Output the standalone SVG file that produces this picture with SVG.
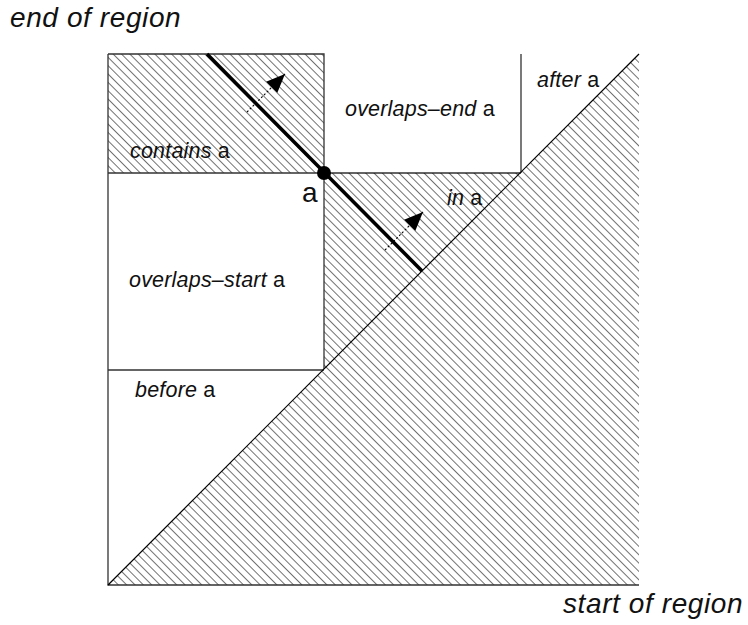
<svg xmlns="http://www.w3.org/2000/svg" width="748" height="625" viewBox="0 0 748 625">
  <style>
    .edge { fill: none; stroke: #333; stroke-width: 1.3; }
    .diag { fill: none; stroke: #000; stroke-width: 1.2; }
    .hatched { fill: url(#hatch); stroke: none; }
    .label { font-family: "Liberation Sans", Arial, sans-serif; font-size: 21.5px; letter-spacing: 0.2px; fill: #111; }
    .axis { font-family: "Liberation Sans", Arial, sans-serif; font-size: 28px; letter-spacing: 0.6px; font-style: italic; fill: #111; }
    .it { font-style: italic; }
    .interval { fill: none; stroke: #000; stroke-width: 3.6; }
    .move { fill: none; stroke: #000; stroke-width: 1.1; stroke-dasharray: 2 2; marker-end: url(#head); }
  </style>
  <defs>
    <pattern id="hatch" patternUnits="userSpaceOnUse" width="5.9" height="10" patternTransform="rotate(-45)">
      <line x1="0" y1="0" x2="0" y2="10" stroke="#000" stroke-width="1.1"/>
    </pattern>
    <marker id="head" markerUnits="userSpaceOnUse" markerWidth="22" markerHeight="18" refX="19" refY="8" orient="auto">
      <path d="M0,0 L19,8 L0,16 Z" fill="#000"/>
    </marker>
  </defs>

  <rect width="748" height="625" fill="#fff"/>

  <!-- regions of the (start, end) plane -->
  <g id="contains">
    <rect class="hatched" x="108" y="54" width="216" height="119"/>
    <path class="edge" d="M108,54 H324 V173"/>
    <text class="label" x="130" y="158"><tspan class="it">contains</tspan> a</text>
  </g>

  <g id="overlaps-end">
    <path class="edge" d="M324,173 H521 M521,173 V54"/>
    <text class="label" x="345" y="116"><tspan class="it">overlaps–end</tspan> a</text>
  </g>

  <g id="after">
    <text class="label" x="537" y="87"><tspan class="it">after</tspan> a</text>
  </g>

  <g id="in">
    <path class="hatched" d="M324,173 L520,173 L639,54 L639,585 L108,585 L324,369 Z"/>
    <path class="edge" d="M324,173 V369"/>
    <text class="label" x="447" y="205"><tspan class="it">in</tspan> a</text>
  </g>

  <g id="overlaps-start">
    <path class="edge" d="M108,173 H324 M108,370 H324"/>
    <text class="label" x="129" y="287"><tspan class="it">overlaps–start</tspan> a</text>
  </g>

  <g id="before">
    <text class="label" x="135" y="397"><tspan class="it">before</tspan> a</text>
  </g>

  <!-- axes and the start = end diagonal -->
  <g id="axes">
    <path class="edge" d="M108,54 V585 H639"/>
    <path class="diag" d="M108,585 L639,54"/>
    <text class="axis" x="10" y="27">end of region</text>
    <text class="axis" x="563" y="613">start of region</text>
  </g>

  <!-- regions sharing an end point with a, and their direction of growth -->
  <g id="connectors">
    <path class="interval" d="M207,54 L422,271"/>
    <path class="move" d="M247,112 L285,74"/>
    <path class="move" d="M385,250 L423,212"/>
  </g>

  <g id="point-a">
    <circle cx="324" cy="173" r="7" fill="#000"/>
    <text class="label" x="302" y="202" style="font-size:28px">a</text>
  </g>
</svg>
